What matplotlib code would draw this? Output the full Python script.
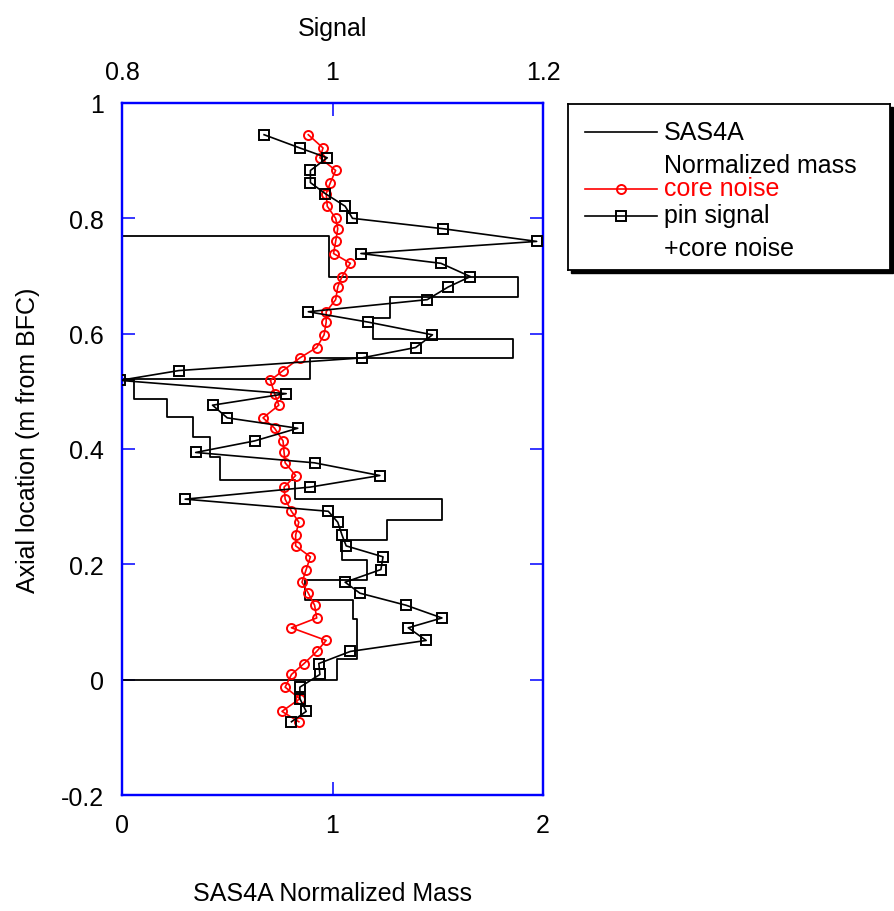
import numpy as np
import matplotlib
matplotlib.use("Agg")
import matplotlib.pyplot as plt
from matplotlib.patches import Rectangle

plt.rcParams['font.family'] = ['Liberation Sans', 'DejaVu Sans']

# ---------------- data ----------------
# axial positions of pin signal / core noise points (m from BFC)
axial = [0.945, 0.922, 0.905, 0.883, 0.862, 0.843, 0.821, 0.800, 0.782, 0.760,
         0.739, 0.722, 0.699, 0.681, 0.659, 0.638, 0.620, 0.598, 0.576, 0.558,
         0.536, 0.519, 0.496, 0.476, 0.454, 0.436, 0.414, 0.394, 0.376, 0.354,
         0.334, 0.313, 0.292, 0.273, 0.251, 0.232, 0.213, 0.191, 0.169, 0.150,
         0.129, 0.107, 0.090, 0.068, 0.049, 0.028, 0.009, -0.013, -0.033, -0.055,
         -0.073]

core_noise = [0.977, 0.991, 0.988, 1.003, 0.998, 0.994, 0.995, 1.003, 1.005, 1.003,
              1.001, 1.017, 1.009, 1.005, 1.003, 0.994, 0.994, 0.992, 0.985, 0.969,
              0.953, 0.941, 0.945, 0.949, 0.934, 0.945, 0.953, 0.954, 0.955, 0.965,
              0.954, 0.955, 0.961, 0.968, 0.965, 0.965, 0.979, 0.975, 0.971, 0.977,
              0.983, 0.985, 0.961, 0.994, 0.985, 0.973, 0.961, 0.955, 0.969, 0.952,
              0.968]

pin_signal = [0.935, 0.969, 0.995, 0.979, 0.979, 0.993, 1.012, 1.019, 1.105, 1.194,
              1.027, 1.103, 1.131, 1.110, 1.090, 0.977, 1.034, 1.095, 1.079, 1.028,
              0.854, 0.798, 0.956, 0.886, 0.900, 0.967, 0.926, 0.870, 0.983, 1.045,
              0.979, 0.860, 0.996, 1.005, 1.009, 1.013, 1.048, 1.046, 1.012, 1.026,
              1.070, 1.104, 1.072, 1.089, 1.017, 0.987, 0.988, 0.969, 0.969, 0.975,
              0.961]

# SAS4A normalized mass: axial node boundaries (top -> bottom) and node values
sas_edges = [0.769, 0.699, 0.664, 0.627, 0.590, 0.558, 0.522, 0.519, 0.487, 0.455,
             0.421, 0.386, 0.346, 0.314, 0.277, 0.242, 0.207, 0.172, 0.138, 0.106,
             0.036, 0.0]
sas_mass = [0.985, 1.883, 1.273, 1.194, 1.856, 0.893, 0.005, 0.057, 0.212, 0.339,
            0.418, 0.466, 0.822, 1.519, 1.257, 1.044, 1.162, 0.869, 1.099, 1.115,
            1.020]

mass_ticks = [0, 1, 2]
mass_ticklabels = ['0', '1', '2']
signal_ticks = [0.8, 1.0, 1.2]
signal_ticklabels = ['0.8', '1', '1.2']
y_ticks = [-0.2, 0, 0.2, 0.4, 0.6, 0.8, 1.0]
y_ticklabels = ['-0.2', '0', '0.2', '0.4', '0.6', '0.8', '1']

# ---------------- figure ----------------
W, H = 894, 912
fig = plt.figure(figsize=(W / 100, H / 100), dpi=100)
fig.patch.set_facecolor('white')

ax_l, ax_r, ax_t, ax_b = 122, 543, 104, 796
ax = fig.add_axes([ax_l / W, 1 - ax_b / H, (ax_r - ax_l) / W, (ax_b - ax_t) / H])
ax2 = ax.twiny()

FS = 18
BLUE = '#0000ff'

# staircase for SAS4A mass
e = np.asarray(sas_edges)
m = np.asarray(sas_mass)
sx = np.concatenate([[0.0], np.repeat(m, 2), [0.0]])
sy = np.concatenate([[e[0]], np.column_stack([e[:-1], e[1:]]).ravel(), [e[-1]]])
ax.plot(sx, sy, color='black', lw=1.3, zorder=2)

ax2.plot(core_noise, axial, color='#ff0000', lw=1.2, marker='o', ms=6.5,
         mfc='none', mec='#ff0000', mew=1.4, zorder=3)
ax2.plot(pin_signal, axial, color='black', lw=1.2, marker='s', ms=7.8,
         mfc='none', mec='black', mew=1.4, zorder=4)

ax.set_xlim(0, 2)
ax.set_ylim(-0.2, 1.0)
ax2.set_xlim(0.8, 1.2)

ax.set_xticks(mass_ticks)
ax.set_xticklabels(mass_ticklabels)
ax.set_yticks(y_ticks)
ax.set_yticklabels(y_ticklabels)
ax2.set_xticks(signal_ticks)
ax2.set_xticklabels(signal_ticklabels)

for a in (ax, ax2):
    for sp in a.spines.values():
        sp.set_color(BLUE)
        sp.set_linewidth(1.6)
    a.patch.set_alpha(0)

ax.tick_params(axis='both', which='both', direction='in', length=9.5, width=1.1,
               color=BLUE, labelcolor='black', labelsize=FS, pad=13,
               left=True, right=True, bottom=True, top=False)
ax2.tick_params(axis='x', which='both', direction='in', length=9.5, width=1.1,
                color=BLUE, labelcolor='black', labelsize=FS, pad=14,
                top=True, bottom=False)

ax.set_xlabel('SAS4A Normalized Mass', fontsize=FS)
ax.xaxis.set_label_coords(0.5, (ax_b - 882) / (ax_b - ax_t))
ax.set_ylabel('Axial location (m from BFC)', fontsize=FS)
ax.yaxis.set_label_coords((40 - ax_l) / (ax_r - ax_l), (ax_b - 440) / (ax_b - ax_t))
ax2.set_xlabel('Signal', fontsize=FS)
ax2.xaxis.set_label_coords(0.5, (ax_b - 36) / (ax_b - ax_t))

# ---------------- legend (manual, MATLAB-style with shadow) ----------------
lg_l, lg_r, lg_t, lg_b = 568, 890, 105, 271
sh = 3
shadow = Rectangle(((lg_l + sh) / W, 1 - (lg_b + sh) / H),
                   (lg_r - lg_l) / W, (lg_b - lg_t) / H,
                   transform=fig.transFigure, facecolor='black',
                   edgecolor='black', zorder=1)
fig.patches.append(shadow)
lax = fig.add_axes([lg_l / W, 1 - lg_b / H, (lg_r - lg_l) / W, (lg_b - lg_t) / H])
lax.set_zorder(5)
lax.set_xlim(lg_l, lg_r)
lax.set_ylim(lg_b, lg_t)
lax.set_xticks([])
lax.set_yticks([])
lax.set_facecolor('white')
for sp in lax.spines.values():
    sp.set_color('black')
    sp.set_linewidth(1.3)

hx0, hx1, hxm, tx = 585, 657, 621, 664
lax.plot([hx0, hx1], [133, 133], color='black', lw=1.2)
lax.text(tx, 133, 'SAS4A', fontsize=FS, va='center', ha='left')
lax.text(tx, 166, 'Normalized mass', fontsize=FS, va='center', ha='left')
lax.plot([hx0, hx1], [190, 190], color='#ff0000', lw=1.2)
lax.plot([hxm], [190], marker='o', ms=6.5, mfc='none', mec='#ff0000', mew=1.4)
lax.text(tx, 189, 'core noise', fontsize=FS, va='center', ha='left', color='#ff0000')
lax.plot([hx0, hx1], [217, 217], color='black', lw=1.2)
lax.plot([hxm], [217], marker='s', ms=7.8, mfc='none', mec='black', mew=1.4)
lax.text(tx, 216, 'pin signal', fontsize=FS, va='center', ha='left')
lax.text(tx, 249, '+core noise', fontsize=FS, va='center', ha='left')

fig.savefig('out.png', dpi=100, facecolor='white')
